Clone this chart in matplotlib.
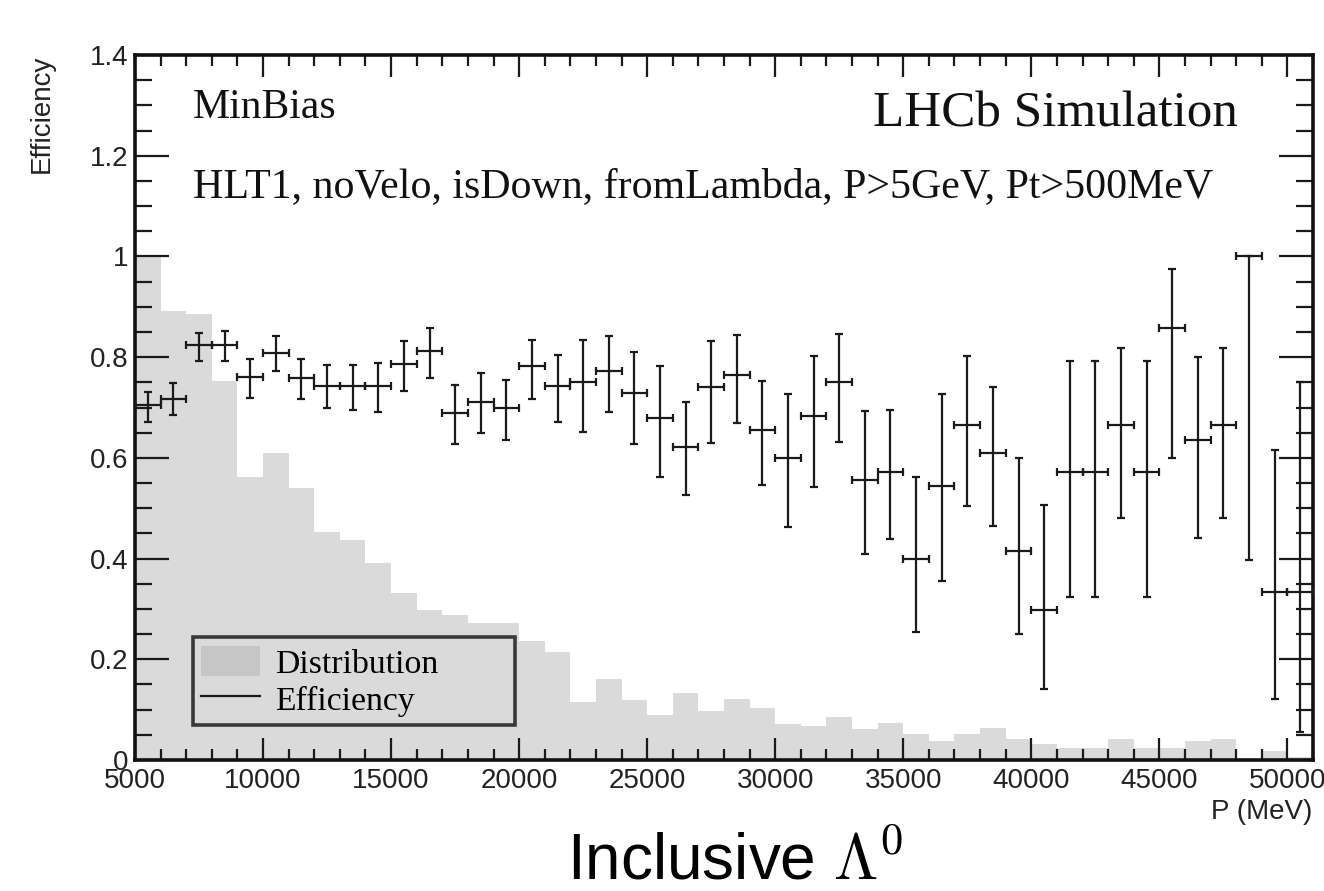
import numpy as np
import matplotlib
matplotlib.use("Agg")
import matplotlib.pyplot as plt
from matplotlib.lines import Line2D
from matplotlib.patches import Patch
from matplotlib.ticker import MultipleLocator, FixedLocator, FixedFormatter

# ---------------- data ----------------
bin_edges = np.arange(5000, 51001, 1000)
bin_centers = 0.5 * (bin_edges[:-1] + bin_edges[1:])

distribution = [1.0, 0.892, 0.885, 0.752, 0.561, 0.610, 0.541, 0.453, 0.437, 0.392,
                0.331, 0.298, 0.288, 0.272, 0.272, 0.236, 0.215, 0.116, 0.160, 0.119,
                0.089, 0.134, 0.097, 0.122, 0.104, 0.071, 0.068, 0.085, 0.062, 0.074,
                0.051, 0.037, 0.051, 0.063, 0.042, 0.032, 0.023, 0.023, 0.042, 0.023,
                0.023, 0.037, 0.042, 0.0, 0.018, 0.005]

efficiency = [0.705, 0.717, 0.825, 0.825, 0.760, 0.809, 0.759, 0.743, 0.743, 0.743,
              0.787, 0.812, 0.690, 0.710, 0.699, 0.783, 0.743, 0.751, 0.773, 0.728,
              0.680, 0.621, 0.741, 0.765, 0.655, 0.600, 0.684, 0.751, 0.556, 0.571,
              0.400, 0.545, 0.666, 0.610, 0.416, 0.298, 0.571, 0.571, 0.666, 0.571,
              0.857, 0.635, 0.666, 1.000, 0.333, 0.333]

eff_high = [0.730, 0.748, 0.847, 0.852, 0.796, 0.842, 0.796, 0.785, 0.785, 0.788,
            0.832, 0.857, 0.745, 0.768, 0.755, 0.835, 0.804, 0.834, 0.842, 0.811,
            0.783, 0.710, 0.832, 0.844, 0.753, 0.726, 0.803, 0.846, 0.693, 0.696,
            0.561, 0.726, 0.802, 0.741, 0.600, 0.507, 0.793, 0.793, 0.818, 0.793,
            0.976, 0.800, 0.818, 1.000, 0.616, 0.750]

eff_low = [0.672, 0.685, 0.793, 0.793, 0.719, 0.773, 0.717, 0.699, 0.696, 0.692,
           0.733, 0.759, 0.627, 0.650, 0.636, 0.717, 0.672, 0.651, 0.692, 0.628,
           0.561, 0.526, 0.629, 0.669, 0.546, 0.462, 0.543, 0.631, 0.410, 0.438,
           0.254, 0.356, 0.504, 0.465, 0.250, 0.141, 0.323, 0.323, 0.480, 0.323,
           0.600, 0.441, 0.480, 0.398, 0.121, 0.055]

y_tick_values = [0, 0.2, 0.4, 0.6, 0.8, 1.0, 1.2, 1.4]
y_tick_labels = ["0", "0.2", "0.4", "0.6", "0.8", "1", "1.2", "1.4"]
x_tick_values = [5000, 10000, 15000, 20000, 25000, 30000, 35000, 40000, 45000, 50000]

# ---------------- figure ----------------
W, H = 1324, 891
fig = plt.figure(figsize=(W / 100, H / 100), dpi=100)
ax = fig.add_axes([135 / W, 1 - 760 / H, (1313 - 135) / W, (760 - 55) / H])

sans = "Liberation Sans"
serif = "Liberation Serif"

widths = np.diff(bin_edges)
ax.bar(bin_edges[:-1], distribution, width=widths, align="edge",
       color="#dadada", edgecolor="none", linewidth=0, zorder=1)

eff = np.array(efficiency)
yerr = [eff - np.array(eff_low), np.array(eff_high) - eff]
xerr = widths / 2.0
ax.errorbar(bin_centers, eff, yerr=yerr, xerr=xerr, fmt="none",
            ecolor="#1a1a1a", elinewidth=1.6, capsize=3, capthick=1.6, zorder=3)

ax.set_xlim(bin_edges[0], bin_edges[-1])
ax.set_ylim(0, 1.4)

ax.xaxis.set_major_locator(FixedLocator(x_tick_values))
ax.xaxis.set_minor_locator(MultipleLocator(1000))
ax.yaxis.set_major_locator(FixedLocator(y_tick_values))
ax.yaxis.set_major_formatter(FixedFormatter(y_tick_labels))
ax.yaxis.set_minor_locator(MultipleLocator(0.05))

ax.tick_params(axis="both", which="both", direction="in", top=True, right=True,
               color="#1a1a1a")
ax.tick_params(axis="x", which="major", length=16, width=1.6, pad=6,
               labelsize=20)
ax.tick_params(axis="x", which="minor", length=8, width=1.6)
ax.tick_params(axis="y", which="major", length=24.5, width=1.6, pad=5,
               labelsize=20)
ax.tick_params(axis="y", which="minor", length=12, width=1.6)
for lab in ax.get_xticklabels() + ax.get_yticklabels():
    lab.set_fontfamily(sans)
    lab.set_color("#222222")

for sp in ax.spines.values():
    sp.set_linewidth(2.6)
    sp.set_color("#111111")

# texts
ax.text(0.049, 0.911, "MinBias", transform=ax.transAxes, family=serif,
        fontsize=30, ha="left", va="baseline", color="#111111")
ax.text(0.049, 0.7986, "HLT1, noVelo, isDown, fromLambda, P>5GeV, Pt>500MeV",
        transform=ax.transAxes, family=serif, fontsize=30.2, ha="left",
        va="baseline", color="#111111")
ax.text(0.9363, 0.898, "LHCb Simulation", transform=ax.transAxes, family=serif,
        fontsize=36.8, ha="right", va="baseline", color="#111111")

fig.text(42 / W, 1 - 55 / H, "Efficiency", rotation=90, family=sans,
         fontsize=20, ha="center", va="top", color="#222222")
fig.text(1312 / W, 1 - 812 / H, "P (MeV)", family=sans, fontsize=20,
         ha="right", va="center", color="#222222")
fig.text(567 / W, 1 - 879 / H, r"Inclusive $\Lambda^0$", family=sans,
         fontsize=46, ha="left", va="baseline", color="#000000",
         math_fontfamily="cm")

# legend
handles = [Patch(facecolor="#c6c6c6", edgecolor="none"),
           Line2D([0], [0], color="#1a1a1a", lw=1.6)]
leg_w = (515 - 193) / 1178
leg_h = (725 - 633) / 705
leg = ax.legend(handles, ["Distribution", "Efficiency"], loc="lower left",
                bbox_to_anchor=(0.049, 0.0496, leg_w, leg_h), mode="expand",
                borderaxespad=0,
                prop={"family": serif, "size": 24.3}, frameon=True,
                fancybox=False, handlelength=1.75, handleheight=1.0,
                labelspacing=0.1, borderpad=0.25, handletextpad=0.45)
leg.get_frame().set_facecolor("none")
leg.get_frame().set_edgecolor("#111111")
leg.get_frame().set_linewidth(2.6)

fig.savefig("out.png", dpi=100)
